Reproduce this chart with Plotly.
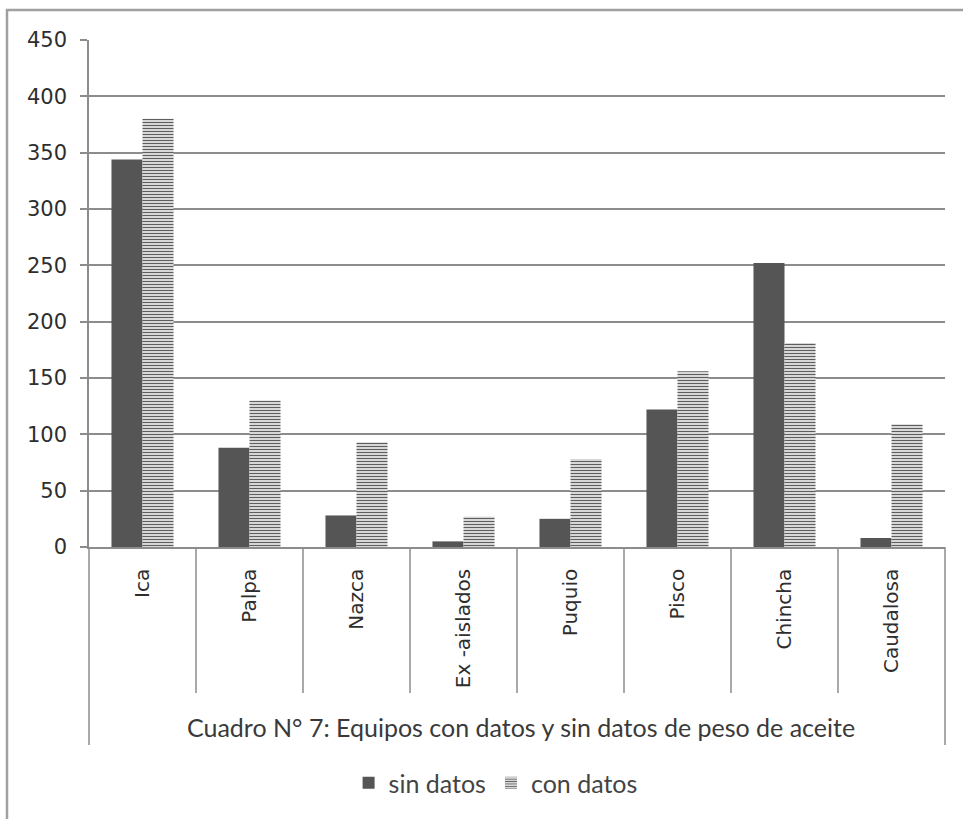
import plotly.graph_objects as go

# Equipment counts per zone: without / with oil-weight data
zonas = ["Ica", "Palpa", "Nazca", "Ex -aislados", "Puquio", "Pisco", "Chincha", "Caudalosa"]
sin_datos = [344, 88, 28, 5, 25, 122, 252, 8]
con_datos = [380, 130, 93, 27, 78, 156, 181, 109]
y_ticks = [0, 50, 100, 150, 200, 250, 300, 350, 400, 450]

W, H = 963, 819
L, R, T, B = 89, 18, 40, 272
plot_h = H - T - B
plot_w = W - L - R


def py(px):
    """pixel row -> paper y"""
    return (H - B - px) / plot_h


def px_(x):
    """pixel column -> paper x"""
    return (x - L) / plot_w


line_col = "#8c8c8c"

fig = go.Figure()
fig.add_trace(go.Bar(
    x=zonas, y=sin_datos, name="sin datos",
    marker=dict(color="#555555", line=dict(width=0)),
))
fig.add_trace(go.Bar(
    x=zonas, y=con_datos, name="con datos",
    marker=dict(color="white", line=dict(width=0),
                pattern=dict(shape="-", fgcolor="#5e5e5e", bgcolor="white",
                             size=3, solidity=0.5, fillmode="replace")),
))

shapes = []
# category separators below the axis
for i in range(1, len(zonas)):
    shapes.append(dict(type="line", xref="x", yref="paper",
                       x0=i - 0.5, x1=i - 0.5, y0=0, y1=py(693),
                       line=dict(color=line_col, width=1.5)))
# outer frame of the category table
shapes.append(dict(type="line", xref="paper", yref="paper", x0=0, x1=0,
                   y0=0, y1=py(745), line=dict(color=line_col, width=1.5)))
shapes.append(dict(type="line", xref="paper", yref="paper", x0=1, x1=1,
                   y0=0, y1=py(745), line=dict(color=line_col, width=1.5)))
# chart border
shapes.append(dict(type="rect", xref="paper", yref="paper",
                   x0=px_(7), x1=px_(975), y0=py(10), y1=py(835),
                   line=dict(color="#a0a0a0", width=2.5), layer="below"))

fig.update_layout(
    width=W, height=H,
    margin=dict(l=L, r=R, t=T, b=B, pad=0),
    paper_bgcolor="white", plot_bgcolor="white",
    barmode="group", bargap=0.42, bargroupgap=0,
    font=dict(family="DejaVu Sans", color="#333333"),
    showlegend=True,
    legend=dict(orientation="h", x=0.475, xanchor="center", y=py(783), yanchor="middle",
                font=dict(family="Lato", size=25, color="#444444"),
                itemwidth=30, tracegroupgap=0, traceorder="normal"),
    shapes=shapes,
    annotations=[dict(
        text="Cuadro N° 7: Equipos con datos y sin datos de peso de aceite",
        xref="paper", yref="paper", x=0.505, y=py(727), xanchor="center", yanchor="middle",
        showarrow=False, font=dict(family="Lato", size=25, color="#3a3a3a"))],
)

fig.update_yaxes(
    range=[0, 450], tickvals=y_ticks, ticktext=[str(v) for v in y_ticks],
    showgrid=True, gridcolor=line_col, gridwidth=1.5,
    showline=True, linecolor=line_col, linewidth=1.5,
    ticks="outside", ticklen=7, tickcolor=line_col, tickwidth=1.5,
    ticklabelstandoff=9,
    tickfont=dict(family="DejaVu Sans", size=21, color="#2e2e2e"),
    zeroline=False,
)
fig.update_xaxes(
    tickangle=-90, showgrid=False,
    showline=True, linecolor=line_col, linewidth=1.5,
    ticks="", ticklabelstandoff=12,
    tickfont=dict(family="DejaVu Sans", size=20, color="#2e2e2e"),
)

fig.write_html("out.html")
